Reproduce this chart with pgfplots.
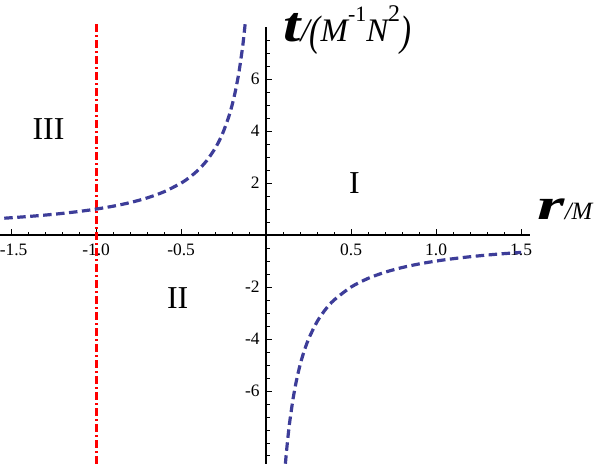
\documentclass[border=0pt]{standalone}
\usepackage{fontspec}
\setmainfont{Liberation Serif}
\usepackage{graphicx}
\usepackage{pgfplots}
\pgfplotsset{compat=1.18}
\definecolor{curveblue}{RGB}{61,61,153}
\begin{document}
\begin{tikzpicture}
\begin{axis}[
  scale only axis, width=529.6bp, height=436.8bp,
  axis lines=middle,
  axis line style={-, line width=1.7bp, black},
  xmin=-1.565, xmax=1.55, ymin=-8.81, ymax=8.0,
  clip=false,
  xtick={-1.5,-1,-0.5,0.5,1,1.5},
  xticklabels={\hspace*{5bp}-1.5,-1.0,-0.5,0.5,1.0,1.5},
  minor xtick={-1.4,-1.3,-1.2,-1.1,-0.9,-0.8,-0.7,-0.6,-0.4,-0.3,-0.2,-0.1,0.1,0.2,0.3,0.4,0.6,0.7,0.8,0.9,1.1,1.2,1.3,1.4},
  ytick={-6,-4,-2,2,4,6},
  yticklabels={-6,-4,-2,2,4,6},
  minor ytick={-8.5,-8,-7.5,-7,-6.5,-5.5,-5,-4.5,-3.5,-3,-2.5,-1.5,-1,-0.5,0.5,1,1.5,2.5,3,3.5,4.5,5,5.5,6.5,7,7.5},
  tick align=inside,
  major tick length=6bp, minor tick length=3.5bp,
  tick style={black, line width=0.9bp},
  ticklabel style={font=\fontsize{17.5}{17.5}\selectfont},
  xticklabel style={yshift=-5bp},
  yticklabel style={xshift=-3bp},
]
\coordinate (sw) at (rel axis cs:0,0);
\addplot[red, line width=3bp, dash pattern=on 8bp off 3bp on 2bp off 3bp] coordinates {(-1,-8.81) (-1,8.2)};
\addplot[curveblue, line width=3.2bp, dash pattern=on 8.5bp off 4.5bp, smooth] coordinates {
(-1.54,0.649) (-1.5,0.667) (-1.4,0.714) (-1.3,0.769) (-1.2,0.833) (-1.1,0.909) (-1.0,1.0)
(-0.9,1.111) (-0.8,1.25) (-0.7,1.429) (-0.6,1.667) (-0.5,2.0) (-0.45,2.222) (-0.4,2.5)
(-0.35,2.857) (-0.3,3.333) (-0.27,3.704) (-0.25,4.0) (-0.22,4.545) (-0.2,5.0) (-0.18,5.556)
(-0.16,6.25) (-0.14,7.143) (-0.13,7.692) (-0.122,8.2)};
\addplot[curveblue, line width=3.2bp, dash pattern=on 8.5bp off 4.5bp, smooth] coordinates {
(0.1136,-8.8) (0.12,-8.333) (0.13,-7.692) (0.14,-7.143) (0.16,-6.25) (0.18,-5.556) (0.2,-5.0)
(0.22,-4.545) (0.25,-4.0) (0.3,-3.333) (0.35,-2.857) (0.4,-2.5) (0.5,-2.0) (0.6,-1.667)
(0.7,-1.429) (0.8,-1.25) (0.9,-1.111) (1.0,-1.0) (1.1,-0.909) (1.2,-0.833) (1.3,-0.769)
(1.4,-0.714) (1.5,-0.667)};
\node[anchor=center, font=\fontsize{32}{32}\selectfont] at (axis cs:-1.28,4.08) {III};
\node[anchor=center, font=\fontsize{32}{32}\selectfont] at (axis cs:0.52,2.0) {I};
\node[anchor=center, font=\fontsize{32}{32}\selectfont] at (axis cs:-0.52,-2.42) {II};
\node[anchor=base west, inner sep=0pt] at (axis cs:0.1,7.45)
  {{\fontsize{50}{50}\selectfont\bfseries\itshape \scalebox{1.25}[1]{t}}{\fontsize{33}{33}\selectfont\itshape /\raisebox{-0.12em}{\scalebox{1}[1.3]{(}}M\raisebox{0.62em}{\fontsize{22}{22}\selectfont\upshape -1}N\raisebox{0.6em}{\fontsize{24}{24}\selectfont\upshape 2}\raisebox{-0.12em}{\scalebox{1}[1.3]{)}}}};
\node[anchor=base west, inner sep=0pt] at (axis cs:1.595,0.6)
  {{\fontsize{44}{44}\selectfont\bfseries\itshape \scalebox{1.6}[1]{r}}{\fontsize{25}{25}\selectfont\itshape /M}};
\end{axis}
\pgfresetboundingbox
\path[use as bounding box] (sw) rectangle ++(600bp,464bp);
\end{tikzpicture}
\end{document}
